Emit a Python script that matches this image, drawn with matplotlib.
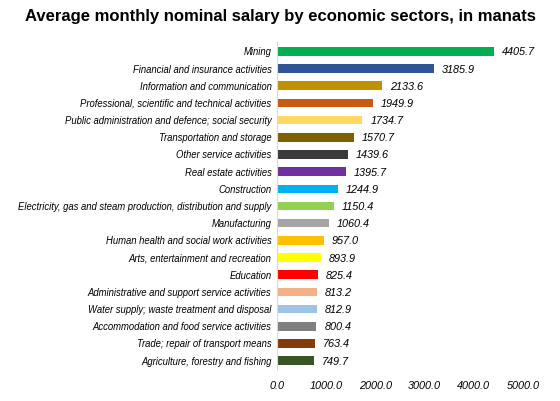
import matplotlib.pyplot as plt

plt.rcParams['font.family'] = ['Liberation Sans', 'DejaVu Sans']

# Sectors listed top to bottom
sectors = [
    'Mining',
    'Financial and insurance activities',
    'Information and communication',
    'Professional, scientific and technical activities',
    'Public administration and defence; social security',
    'Transportation and storage',
    'Other service activities',
    'Real estate activities',
    'Construction',
    'Electricity, gas and steam production, distribution and supply',
    'Manufacturing',
    'Human health and social work activities',
    'Arts, entertainment and recreation',
    'Education',
    'Administrative and support service activities',
    'Water supply; waste treatment and disposal',
    'Accommodation and food service activities',
    'Trade; repair of transport means',
    'Agriculture, forestry and fishing',
]
salary = [4405.7, 3185.9, 2133.6, 1949.9, 1734.7, 1570.7, 1439.6, 1395.7,
          1244.9, 1150.4, 1060.4, 957.0, 893.9, 825.4, 813.2, 812.9,
          800.4, 763.4, 749.7]
colors = ['#00b050', '#2f5597', '#bf9000', '#c55a11', '#ffd966', '#7f6000',
          '#3a3a3a', '#7030a0', '#00b0f0', '#92d050', '#a5a5a5', '#ffc000',
          '#ffff00', '#ff0000', '#f4b183', '#9dc3e6', '#808080', '#843c0c',
          '#375623']
xticks = [0, 1000, 2000, 3000, 4000, 5000]

fig = plt.figure(figsize=(5.6, 4.02), dpi=100)
ax = fig.add_axes([277 / 560, 1 - 371 / 402, 246 / 560, 328 / 402])

ypos = list(range(len(sectors)))[::-1]
ax.barh(ypos, salary, height=0.5, color=colors)

for y, v in zip(ypos, salary):
    ax.text(v + 160, y, f'{v:.1f}', va='center', ha='left',
            fontsize=7.8, style='italic')

ax.set_yticks(ypos)
ax.set_yticklabels(sectors, fontsize=6.85, style='italic', va='center')
ax.set_ylim(-0.55, len(sectors) - 0.45)
ax.set_xlim(0, 5000)
ax.set_xticks(xticks)
ax.set_xticklabels([f'{t:.1f}' for t in xticks], fontsize=7.8, style='italic')

for s in ['top', 'right', 'bottom']:
    ax.spines[s].set_visible(False)
ax.spines['left'].set_color('#d9d9d9')
ax.tick_params(axis='both', length=0)
ax.tick_params(axis='y', pad=4)
ax.tick_params(axis='x', pad=7)

fig.text(0.5, 1 - 16 / 402, 'Average monthly nominal salary by economic sectors, in manats',
         ha='center', va='center', fontsize=12, fontweight='bold')

fig.savefig('out.png', dpi=100)
